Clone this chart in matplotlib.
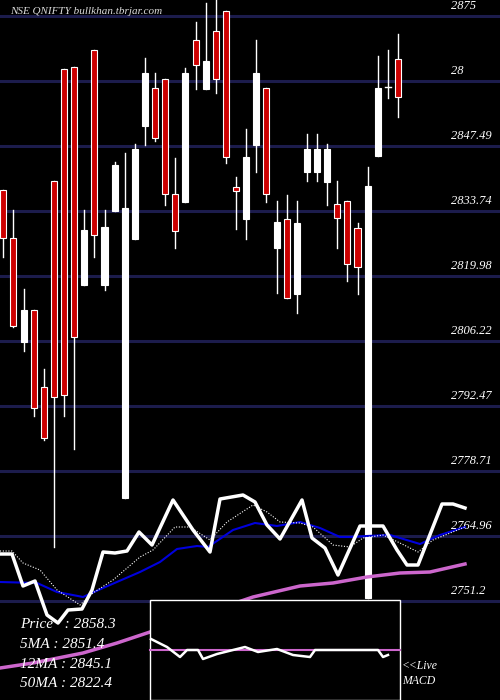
import matplotlib
matplotlib.use("Agg")
import matplotlib.pyplot as plt
from matplotlib.patches import Rectangle

# candles: open, high, low, close
opens = [2838.2, 2828.0, 2806.0, 2812.8, 2796.5, 2840.1, 2863.8, 2864.2, 2818.1, 2867.8,
         2818.1, 2833.7, 2773.0, 2827.8, 2851.7, 2859.8, 2861.7, 2837.3, 2835.6, 2869.9,
         2859.6, 2871.8, 2876.1, 2838.8, 2832.0, 2847.7, 2859.8, 2825.9, 2832.0, 2816.2,
         2842.0, 2842.0, 2839.9, 2835.2, 2835.9, 2830.1, 2751.8, 2845.4, 2860.0, 2865.9]
highs = [2838.2, 2833.9, 2817.2, 2812.8, 2800.3, 2840.1, 2863.8, 2864.2, 2833.9, 2867.8,
         2833.9, 2844.1, 2846.0, 2847.9, 2866.1, 2862.9, 2861.7, 2845.0, 2864.0, 2873.7,
         2877.8, 2878.4, 2876.1, 2840.9, 2851.1, 2869.9, 2859.8, 2835.9, 2837.1, 2835.9,
         2850.0, 2850.0, 2847.9, 2840.1, 2835.9, 2831.2, 2843.1, 2866.5, 2867.8, 2871.2]
lows = [2824.0, 2809.2, 2804.1, 2790.4, 2785.3, 2762.6, 2790.4, 2783.4, 2818.1, 2824.0,
        2817.0, 2833.7, 2773.0, 2827.8, 2847.7, 2848.6, 2835.0, 2825.9, 2835.6, 2859.6,
        2859.6, 2858.7, 2843.9, 2829.9, 2827.8, 2842.0, 2835.6, 2816.4, 2815.3, 2812.2,
        2840.1, 2840.1, 2835.0, 2825.9, 2818.9, 2816.2, 2751.8, 2845.4, 2857.6, 2853.6]
closes = [2828.0, 2809.4, 2812.8, 2792.1, 2785.7, 2794.4, 2794.8, 2807.1, 2829.7, 2828.7,
          2830.4, 2843.5, 2834.4, 2846.9, 2862.9, 2849.2, 2837.3, 2829.5, 2862.9, 2864.6,
          2865.5, 2861.7, 2845.2, 2838.0, 2845.2, 2862.9, 2837.3, 2831.4, 2815.3, 2831.2,
          2846.9, 2846.9, 2846.9, 2832.3, 2822.5, 2821.9, 2839.0, 2859.8, 2860.0, 2857.9]

grid_prices = [2875, 2861.25, 2847.49, 2833.74, 2819.98, 2806.22, 2792.47, 2778.71, 2764.96, 2751.2]
grid_labels = ["2875", "28", "2847.49", "2833.74", "2819.98", "2806.22", "2792.47",
               "2778.71", "2764.96", "2751.2"]

# indicator overlay (own scale, 0 at top)
ind_x = [0, 12, 23, 35, 47, 58, 68, 82, 92, 103, 115, 127, 139, 152, 173, 193, 210, 220,
         243, 255, 267, 280, 302, 312, 325, 338, 360, 383, 397, 407, 418, 442, 453, 465]
ind_y = [554, 554, 586, 581, 615, 623, 610, 609, 590, 552, 553, 551, 532, 545, 500, 530, 552,
         499, 495, 502, 525, 539, 500, 538, 548, 575, 526, 526, 550, 565, 565, 504, 504, 508]
fast_x = [0, 12, 23, 40, 57, 80, 93, 113, 140, 153, 175, 190, 210, 227, 253, 267, 280, 300,
          313, 333, 350, 363, 383, 400, 418, 433, 465]
fast_y = [551, 551, 563, 570, 590, 605, 593, 580, 557, 550, 527, 527, 540, 522, 505, 512,
          522, 523, 527, 545, 547, 538, 535, 543, 552, 540, 527]
ma12_x = [0, 37, 57, 83, 103, 140, 160, 177, 197, 208, 233, 255, 277, 300, 320, 340, 350,
          367, 390, 420, 440, 465]
ma12_y = [582, 583, 592, 597, 588, 572, 562, 549, 546, 547, 530, 523, 526, 522, 528, 537,
          537, 536, 535, 544, 535, 527]
ma50_x = [0, 33, 83, 117, 150, 200, 253, 300, 333, 367, 400, 430, 465]
ma50_y = [668, 663, 653, 643, 632, 615, 597, 586, 583, 577, 573, 572, 564]
macd_x = [151, 167, 180, 187, 198, 203, 217, 233, 245, 258, 277, 293, 310, 315, 378, 383, 388]
macd_y = [639, 647, 657, 650, 650, 659, 654, 650, 647, 652, 649, 655, 657, 650, 650, 657, 655]

legend_lines = ["Price   : 2858.3", "5MA : 2851.4", "12MA : 2845.1", "50MA : 2822.4"]

serif = ["Liberation Serif", "DejaVu Serif"]

fig = plt.figure(figsize=(5, 7), dpi=100, facecolor="black")
ax = fig.add_axes([0, 0, 1, 1], facecolor="black")
ax.set_xlim(-0.326, 49.08)
ax.set_ylim(2730.25, 2878.39)
ax.axis("off")

for p, lab in zip(grid_prices, grid_labels):
    ax.axhline(p, color="#1c1c4c", lw=2.2, zorder=1)
    ax.text(44.2, p + 0.8, lab, color="white", fontsize=9, style="italic",
            family=serif, va="bottom", ha="left", zorder=6)

for i, (o, h, l, c) in enumerate(zip(opens, highs, lows, closes)):
    up = c >= o
    ax.plot([i, i], [l, h], color="white", lw=1, zorder=2)
    lo, hi = min(o, c), max(o, c)
    if hi - lo < 0.3:
        ax.plot([i - 0.3, i + 0.3], [o, o], color="white", lw=1, zorder=3)
        continue
    ax.add_patch(Rectangle((i - 0.3, lo), 0.6, hi - lo,
                           facecolor="white" if up else "#cc0000",
                           edgecolor="white", lw=0.8, zorder=3))

ov = fig.add_axes([0, 0, 1, 1], facecolor="none")
ov.set_xlim(0, 500)
ov.set_ylim(700, 0)
ov.axis("off")
ov.plot(ma50_x, ma50_y, color="#cc66cc", lw=2.5, zorder=2)
ov.plot(ma12_x, ma12_y, color="#0000dd", lw=1.5, zorder=3)
ov.plot(fast_x, fast_y, color="white", lw=0.8, ls=(0, (1, 1.5)), zorder=3)
ov.plot(ind_x, ind_y, color="white", lw=2.5, zorder=4)

ov.add_patch(Rectangle((150, 600), 250, 100, facecolor="black", edgecolor="white",
                       lw=1, zorder=5))
ov.plot([150, 400], [650, 650], color="#cc66cc", lw=1.5, zorder=6)
ov.plot(macd_x, macd_y, color="white", lw=1.8, zorder=7)
ov.text(402, 666, "<<Live", color="white", fontsize=8.5, style="italic", family=serif,
        va="center", zorder=7)
ov.text(402, 681, "MACD", color="white", fontsize=8.5, style="italic", family=serif,
        va="center", zorder=7)

for k, t in enumerate(legend_lines):
    ov.text(20, 625 + k * 19.5, t, color="white", fontsize=11, style="italic",
            family=serif, va="center", zorder=8)

ov.text(10, 12, "NSE QNIFTY bullkhan.tbrjar.com", color="#dddddd", fontsize=8,
        style="italic", family=serif, va="center", zorder=8)

fig.savefig("out.png", dpi=100, facecolor="black")
